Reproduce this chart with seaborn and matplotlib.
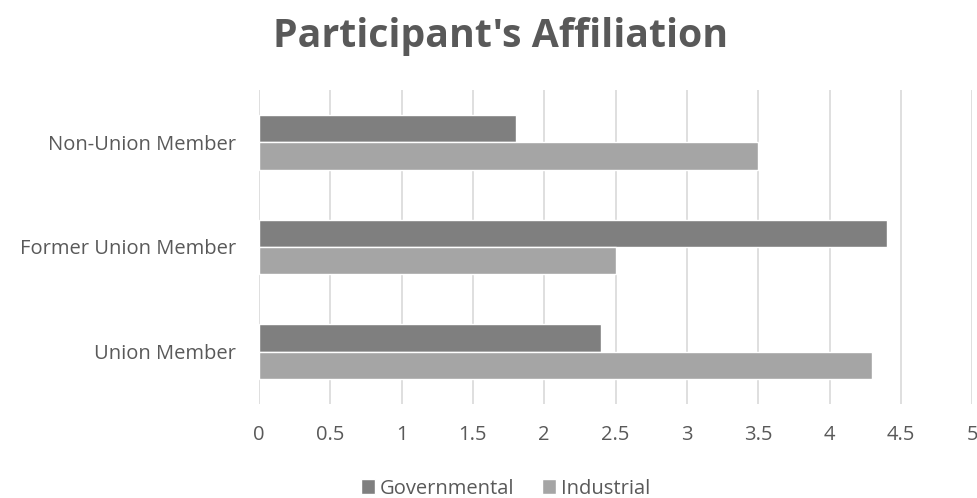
import matplotlib
matplotlib.use("Agg")
import matplotlib.pyplot as plt
import seaborn as sns
import pandas as pd

categories = ["Non-Union Member", "Former Union Member", "Union Member"]
governmental = [1.8, 4.4, 2.4]
industrial = [3.5, 2.5, 4.3]
series = ["Governmental", "Industrial"]
xticks = [0, 0.5, 1, 1.5, 2, 2.5, 3, 3.5, 4, 4.5, 5]

df = pd.DataFrame({
    "category": categories * 2,
    "value": governmental + industrial,
    "series": [series[0]] * 3 + [series[1]] * 3,
})

sns.set_theme(style="white")
plt.rcParams["font.family"] = ["Open Sans", "DejaVu Sans"]
text_color = "#595959"

fig = plt.figure(figsize=(9.78, 4.98), dpi=100)
ax = fig.add_axes([0.2648, 0.1888, 0.7292, 0.6305])

sns.barplot(data=df, y="category", x="value", hue="series", order=categories,
            hue_order=series, palette=["#7f7f7f", "#a5a5a5"], width=0.525,
            saturation=1, orient="h", ax=ax, legend=True)

ax.set_xlim(0, 5)
ax.set_ylim(2.5, -0.5)
ax.set_xticks(xticks)
ax.set_xticklabels([f"{t:g}" for t in xticks])
ax.xaxis.grid(True, color="#d9d9d9", linewidth=1.2)
ax.set_axisbelow(True)
for s in ax.spines.values():
    s.set_visible(False)
ax.tick_params(axis="both", length=0, labelsize=14.5, labelcolor=text_color)
ax.tick_params(axis="x", pad=15)
ax.tick_params(axis="y", pad=16.5)
ax.set_xlabel("")
ax.set_ylabel("")

fig.text(0.512, 1 - 47 / 498, "Participant's Affiliation", ha="center", va="baseline",
         fontsize=28.3, fontweight="bold", color=text_color)

handles, labels = ax.get_legend_handles_labels()
ax.get_legend().remove()
fig.legend(handles, labels, loc="center", bbox_to_anchor=(0.517, 0.019), ncol=2,
           frameon=False, fontsize=14.5, labelcolor=text_color, handlelength=0.7,
           handleheight=0.7, handletextpad=0.25, columnspacing=1.4,
           borderaxespad=0, borderpad=0)

fig.savefig("out.png", dpi=100)
